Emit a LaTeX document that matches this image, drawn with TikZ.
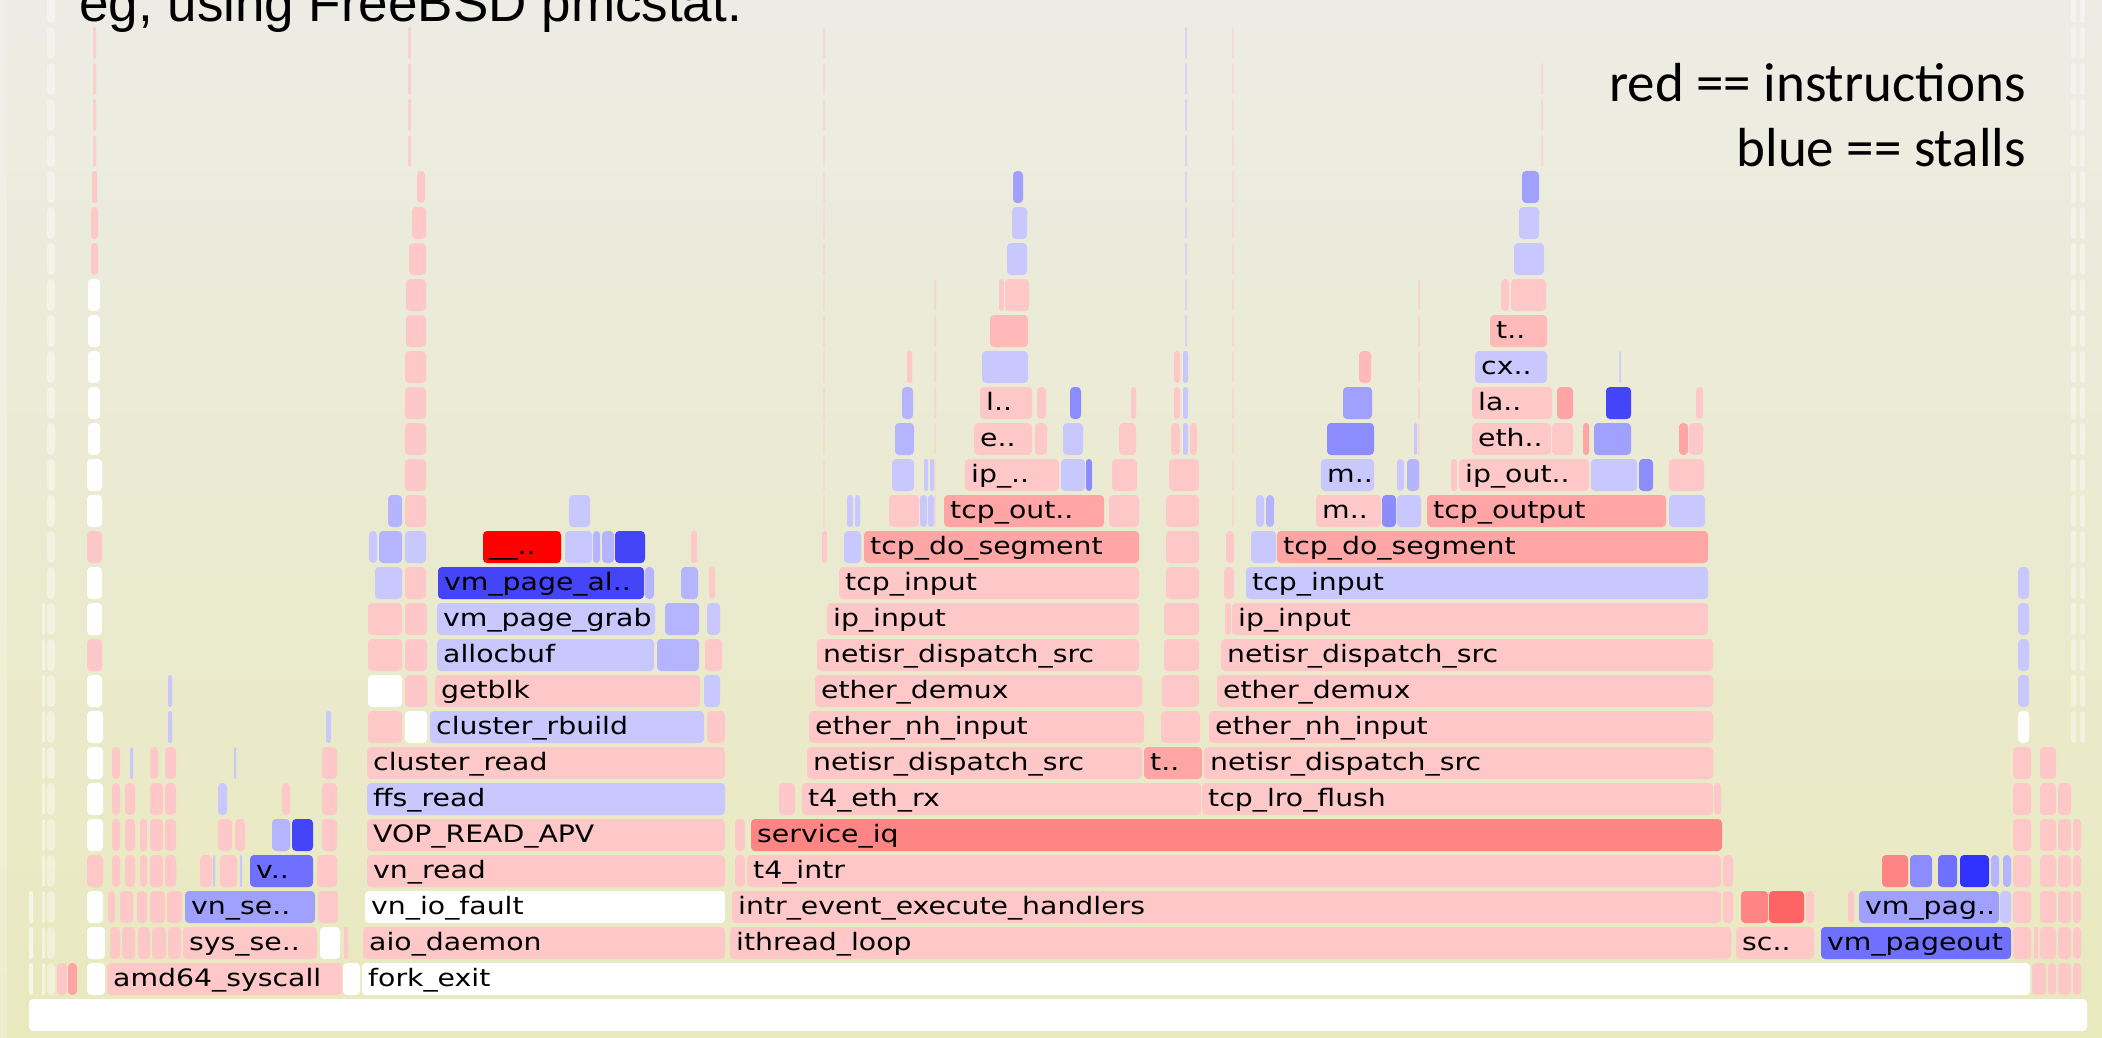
\documentclass[tikz,border=0pt]{standalone}
\usepackage{fontspec}
\newfontfamily\fgfont[FakeStretch=1.18]{DejaVu Sans}
\newfontfamily\slidefont{Liberation Sans}
\newfontfamily\notefont{Carlito}
% frame colours
\definecolor{bgtop}{RGB}{236,236,229}
\definecolor{bgbot}{RGB}{233,233,190}
\definecolor{pkA}{RGB}{255,200,200}
\definecolor{pkB}{RGB}{255,185,185}
\definecolor{pkC}{RGB}{255,165,165}
\definecolor{pkD}{RGB}{255,132,132}
\definecolor{pkE}{RGB}{255,100,100}
\definecolor{rdF}{RGB}{255,0,0}
\definecolor{blA}{RGB}{200,200,255}
\definecolor{blB}{RGB}{180,180,255}
\definecolor{blC}{RGB}{160,160,255}
\definecolor{blD}{RGB}{140,140,255}
\definecolor{blE}{RGB}{112,112,255}
\definecolor{blF}{RGB}{68,68,248}
\definecolor{blG}{RGB}{50,50,255}
% one stack frame: left x, right x, level, fill
\newcommand\fgbox[4]{%
  \pgfmathsetmacro\fgrad{min(4,(#2-#1)/2)}%
  \fill[#4,rounded corners=\fgrad pt] (#1,{999-36*#3}) rectangle (#2,{1031-36*#3});}
% frame label: name, left x of frame, level, text
\newcommand\fgl[4]{\node[fglabel] (#1) at ({#2+6},{1022-36*#3}) {#4};}
\begin{document}
\begin{tikzpicture}[x=1pt,y=-1pt,
  fglabel/.style={anchor=base west,inner sep=0pt,font=\fgfont\fontsize{24}{24}\selectfont,text=black}]
\useasboundingbox (0,0) rectangle (2102,1038);
\clip (0,0) rectangle (2102,1038);
\shade[top color=bgtop,bottom color=bgbot] (0,0) rectangle (2102,1038);
\fill[white,opacity=0.25] (0,0) rectangle (7,1038);

% faint side columns
\foreach \r in {1,...,28} {\fgbox{47}{55}{\r}{white,opacity=0.4}}
\foreach \r in {8,...,28} {\fgbox{2071}{2076}{\r}{white,opacity=0.4}\fgbox{2080}{2085}{\r}{white,opacity=0.4}}
\foreach \r in {1,2,3} {\fgbox{29}{33}{\r}{white,opacity=0.6}}
\foreach \r in {1,...,11} {\fgbox{42}{45}{\r}{white,opacity=0.5}}

% thin spires
\foreach \r in {24,...,27} {\fgbox{93}{96}{\r}{pkA,opacity=0.8}\fgbox{408}{411}{\r}{pkA,opacity=0.8}}
\foreach \r in {14,...,27} {\fgbox{823}{825}{\r}{pkA,opacity=0.45}\fgbox{1232}{1234}{\r}{pkA,opacity=0.45}}
\foreach \r in {19,...,27} {\fgbox{1185}{1187}{\r}{blA,opacity=0.6}}
\foreach \r in {14,...,20} {\fgbox{934}{936}{\r}{pkA,opacity=0.5}\fgbox{1418}{1420}{\r}{pkA,opacity=0.5}}
\foreach \r in {24,25,26} {\fgbox{1541}{1543}{\r}{pkA,opacity=0.5}}
\foreach \r in {17,18} {\fgbox{1619}{1621}{\r}{blA,opacity=0.7}}

% level 0
\fgbox{29}{2087}{0}{white}
% level 1
\fgbox{57}{67}{1}{pkA}\fgbox{68}{77}{1}{pkC}\fgbox{87}{105}{1}{white}
\fgbox{107}{342}{1}{pkA}\fgl{amd}{107}{1}{amd64\_syscall}
\fgbox{343}{360}{1}{white}
\fgbox{362}{2030}{1}{white}\fgl{fork}{362}{1}{fork\_exit}
\fgbox{2032}{2046}{1}{pkA}\fgbox{2048}{2056}{1}{pkA}\fgbox{2058}{2071}{1}{pkA}\fgbox{2073}{2081}{1}{pkA}
% level 2
\fgbox{87}{105}{2}{white}
\fgbox{110}{120}{2}{pkA}\fgbox{122}{135}{2}{pkA}\fgbox{138}{150}{2}{pkA}\fgbox{152}{166}{2}{pkA}\fgbox{168}{181}{2}{pkA}
\fgbox{183}{317}{2}{pkA}\fgl{syss}{183}{2}{sys\_se..}
\fgbox{320}{340}{2}{white}\fgbox{344}{348}{2}{pkA}
\fgbox{363}{725}{2}{pkA}\fgl{aio}{363}{2}{aio\_daemon}
\fgbox{730}{1731}{2}{pkA}\fgl{ith}{730}{2}{ithread\_loop}
\fgbox{1736}{1814}{2}{pkA}\fgl{sch}{1736}{2}{sc..}
\fgbox{1821}{2011}{2}{blE}\fgl{vmpo}{1821}{2}{vm\_pageout}
\fgbox{2013}{2031}{2}{pkA}\fgbox{2034}{2038}{2}{pkA}\fgbox{2040}{2056}{2}{pkA}\fgbox{2058}{2071}{2}{pkA}\fgbox{2073}{2081}{2}{pkA}
% level 3
\fgbox{87}{103}{3}{white}
\fgbox{108}{115}{3}{pkA}\fgbox{120}{133}{3}{pkA}\fgbox{137}{147}{3}{pkA}\fgbox{150}{165}{3}{pkA}\fgbox{167}{182}{3}{pkA}
\fgbox{185}{315}{3}{blC}\fgl{vnse}{185}{3}{vn\_se..}
\fgbox{318}{338}{3}{pkA}
\fgbox{365}{725}{3}{white}\fgl{vnio}{365}{3}{vn\_io\_fault}
\fgbox{732}{1721}{3}{pkA}\fgl{intr}{732}{3}{intr\_event\_execute\_handlers}
\fgbox{1723}{1733}{3}{pkA}
\fgbox{1741}{1768}{3}{pkD}\fgbox{1769}{1804}{3}{pkE}\fgbox{1806}{1814}{3}{pkA}\fgbox{1848}{1854}{3}{pkA}
\fgbox{1859}{1999}{3}{blC}\fgl{vmpg}{1859}{3}{vm\_pag..}
\fgbox{2000}{2011}{3}{blA}
\fgbox{2013}{2031}{3}{pkA}\fgbox{2040}{2056}{3}{pkA}\fgbox{2058}{2071}{3}{pkA}\fgbox{2073}{2081}{3}{pkA}
% level 4
\fgbox{87}{103}{4}{pkA}
\fgbox{112}{120}{4}{pkA}\fgbox{125}{135}{4}{pkA}\fgbox{140}{147}{4}{pkA}\fgbox{150}{163}{4}{pkA}\fgbox{165}{176}{4}{pkA}
\fgbox{200}{212}{4}{pkA}\fgbox{213}{215}{4}{blA}\fgbox{220}{237}{4}{pkA}\fgbox{240}{242}{4}{blA}
\fgbox{250}{313}{4}{blE}\fgl{vdots}{250}{4}{v..}
\fgbox{317}{337}{4}{pkA}
\fgbox{367}{725}{4}{pkA}\fgl{vnrd}{367}{4}{vn\_read}
\fgbox{735}{745}{4}{pkA}
\fgbox{747}{1721}{4}{pkA}\fgl{t4i}{747}{4}{t4\_intr}
\fgbox{1723}{1733}{4}{pkA}
\fgbox{1882}{1908}{4}{pkD}\fgbox{1910}{1932}{4}{blD}\fgbox{1938}{1957}{4}{blE}\fgbox{1960}{1989}{4}{blG}\fgbox{1991}{1999}{4}{blB}\fgbox{2003}{2011}{4}{blB}
\fgbox{2013}{2031}{4}{pkA}\fgbox{2040}{2056}{4}{pkA}\fgbox{2058}{2071}{4}{pkA}\fgbox{2073}{2081}{4}{pkA}
% level 5
\fgbox{87}{103}{5}{white}
\fgbox{112}{120}{5}{pkA}\fgbox{125}{135}{5}{pkA}\fgbox{140}{147}{5}{pkA}\fgbox{150}{163}{5}{pkA}\fgbox{165}{176}{5}{pkA}
\fgbox{218}{232}{5}{pkA}\fgbox{235}{245}{5}{pkA}
\fgbox{272}{290}{5}{blB}\fgbox{292}{313}{5}{blF}
\fgbox{322}{337}{5}{pkA}
\fgbox{367}{725}{5}{pkA}\fgl{vop}{367}{5}{VOP\_READ\_APV}
\fgbox{735}{745}{5}{pkA}
\fgbox{751}{1722}{5}{pkD}\fgl{siq}{751}{5}{service\_iq}
\fgbox{2013}{2031}{5}{pkA}\fgbox{2040}{2056}{5}{pkA}\fgbox{2058}{2071}{5}{pkA}\fgbox{2073}{2081}{5}{pkA}
% level 6
\fgbox{87}{103}{6}{white}
\fgbox{112}{120}{6}{pkA}\fgbox{125}{135}{6}{pkA}\fgbox{150}{163}{6}{pkA}\fgbox{165}{176}{6}{pkA}
\fgbox{218}{227}{6}{blA}\fgbox{282}{290}{6}{pkA}\fgbox{322}{337}{6}{pkA}
\fgbox{367}{725}{6}{blA}\fgl{ffs}{367}{6}{ffs\_read}
\fgbox{779}{795}{6}{pkA}
\fgbox{802}{1201}{6}{pkA}\fgl{t4e}{802}{6}{t4\_eth\_rx}
\fgbox{1202}{1713}{6}{pkA}\fgl{lro}{1202}{6}{tcp\_lro\_flush}
\fgbox{1714}{1721}{6}{pkA}
\fgbox{2013}{2031}{6}{pkA}\fgbox{2040}{2056}{6}{pkA}\fgbox{2058}{2071}{6}{pkA}
% level 7
\fgbox{87}{103}{7}{white}
\fgbox{112}{120}{7}{pkA}\fgbox{130}{133}{7}{blA}\fgbox{150}{158}{7}{pkA}\fgbox{165}{176}{7}{pkA}\fgbox{234}{236}{7}{blA}\fgbox{322}{337}{7}{pkA}
\fgbox{367}{725}{7}{pkA}\fgl{clr}{367}{7}{cluster\_read}
\fgbox{807}{1142}{7}{pkA}\fgl{nds1}{807}{7}{netisr\_dispatch\_src}
\fgbox{1144}{1202}{7}{pkC}\fgl{tdot}{1144}{7}{t..}
\fgbox{1204}{1713}{7}{pkA}\fgl{nds2}{1204}{7}{netisr\_dispatch\_src}
\fgbox{2013}{2031}{7}{pkA}\fgbox{2040}{2056}{7}{pkA}
% level 8
\fgbox{87}{103}{8}{white}
\fgbox{168}{172}{8}{blA}\fgbox{326}{331}{8}{blA}
\fgbox{368}{402}{8}{pkA}\fgbox{405}{427}{8}{white}
\fgbox{430}{704}{8}{blA}\fgl{crb}{430}{8}{cluster\_rbuild}
\fgbox{707}{725}{8}{pkA}
\fgbox{809}{1144}{8}{pkA}\fgl{enh1}{809}{8}{ether\_nh\_input}
\fgbox{1161}{1200}{8}{pkA}
\fgbox{1209}{1713}{8}{pkA}\fgl{enh2}{1209}{8}{ether\_nh\_input}
\fgbox{2018}{2029}{8}{white}
% level 9
\fgbox{87}{102}{9}{white}
\fgbox{168}{172}{9}{blA}
\fgbox{368}{402}{9}{white}\fgbox{405}{427}{9}{pkA}
\fgbox{435}{700}{9}{pkA}\fgl{gblk}{435}{9}{getblk}
\fgbox{704}{720}{9}{blA}
\fgbox{815}{1142}{9}{pkA}\fgl{edm1}{815}{9}{ether\_demux}
\fgbox{1162}{1199}{9}{pkA}
\fgbox{1217}{1713}{9}{pkA}\fgl{edm2}{1217}{9}{ether\_demux}
\fgbox{2018}{2029}{9}{blA}
% level 10
\fgbox{87}{102}{10}{pkA}
\fgbox{368}{402}{10}{pkA}\fgbox{405}{427}{10}{pkA}
\fgbox{437}{654}{10}{blA}\fgl{alb}{437}{10}{allocbuf}
\fgbox{657}{699}{10}{blB}\fgbox{705}{722}{10}{pkA}
\fgbox{817}{1139}{10}{pkA}\fgl{nds3}{817}{10}{netisr\_dispatch\_src}
\fgbox{1164}{1199}{10}{pkA}
\fgbox{1221}{1713}{10}{pkA}\fgl{nds4}{1221}{10}{netisr\_dispatch\_src}
\fgbox{2018}{2029}{10}{blA}
% level 11
\fgbox{87}{102}{11}{white}
\fgbox{368}{402}{11}{pkA}\fgbox{405}{427}{11}{pkA}
\fgbox{437}{655}{11}{blA}\fgl{vpg}{437}{11}{vm\_page\_grab}
\fgbox{665}{699}{11}{blB}\fgbox{707}{720}{11}{blA}
\fgbox{827}{1139}{11}{pkA}\fgl{ipi1}{827}{11}{ip\_input}
\fgbox{1164}{1199}{11}{pkA}\fgbox{1225}{1231}{11}{pkA}
\fgbox{1232}{1708}{11}{pkA}\fgl{ipi2}{1232}{11}{ip\_input}
\fgbox{2018}{2029}{11}{blA}
% level 12
\fgbox{87}{102}{12}{white}
\fgbox{375}{402}{12}{blA}\fgbox{405}{426}{12}{pkA}
\fgbox{438}{644}{12}{blF}\fgl{vpa}{438}{12}{vm\_page\_al..}
\fgbox{645}{654}{12}{blB}\fgbox{681}{698}{12}{blB}\fgbox{709}{715}{12}{pkA}
\fgbox{839}{1139}{12}{pkA}\fgl{tci1}{839}{12}{tcp\_input}
\fgbox{1166}{1199}{12}{pkA}\fgbox{1224}{1234}{12}{pkA}
\fgbox{1246}{1708}{12}{blA}\fgl{tci2}{1246}{12}{tcp\_input}
\fgbox{2018}{2029}{12}{blA}
% level 13
\fgbox{87}{102}{13}{pkA}
\fgbox{369}{377}{13}{blA}\fgbox{379}{402}{13}{blB}\fgbox{405}{426}{13}{blA}
\fgbox{483}{561}{13}{rdF}\fgl{lock}{483}{13}{\_\_..}
\fgbox{565}{592}{13}{blA}\fgbox{593}{600}{13}{blB}\fgbox{602}{614}{13}{blB}\fgbox{615}{645}{13}{blF}
\fgbox{691}{697}{13}{pkA}\fgbox{822}{827}{13}{pkA}\fgbox{844}{861}{13}{blA}
\fgbox{864}{1139}{13}{pkC}\fgl{tds1}{864}{13}{tcp\_do\_segment}
\fgbox{1166}{1199}{13}{pkA}\fgbox{1226}{1234}{13}{pkA}
\fgbox{1251}{1276}{13}{blA}
\fgbox{1277}{1708}{13}{pkC}\fgl{tds2}{1277}{13}{tcp\_do\_segment}
% level 14
\fgbox{87}{102}{14}{white}
\fgbox{388}{402}{14}{blB}\fgbox{405}{426}{14}{pkA}
\fgbox{569}{590}{14}{blA}\fgbox{847}{853}{14}{blA}\fgbox{855}{860}{14}{blA}
\fgbox{889}{919}{14}{pkA}\fgbox{920}{927}{14}{blA}\fgbox{928}{934}{14}{blA}
\fgbox{944}{1104}{14}{pkC}\fgl{tco1}{944}{14}{tcp\_out..}
\fgbox{1109}{1139}{14}{pkA}\fgbox{1166}{1199}{14}{pkA}
\fgbox{1256}{1264}{14}{blA}\fgbox{1266}{1274}{14}{blB}
\fgbox{1316}{1381}{14}{pkA}\fgl{mm1}{1316}{14}{m..}
\fgbox{1382}{1396}{14}{blD}\fgbox{1397}{1421}{14}{blA}
\fgbox{1427}{1666}{14}{pkC}\fgl{tco2}{1427}{14}{tcp\_output}
\fgbox{1669}{1705}{14}{blA}
% level 15
\fgbox{87}{102}{15}{white}
\fgbox{405}{426}{15}{pkA}
\fgbox{892}{914}{15}{blA}\fgbox{924}{928}{15}{blA}\fgbox{930}{934}{15}{blA}
\fgbox{965}{1059}{15}{pkA}\fgl{ipd}{965}{15}{ip\_..}
\fgbox{1061}{1085}{15}{blA}\fgbox{1086}{1092}{15}{blD}
\fgbox{1112}{1137}{15}{pkA}\fgbox{1169}{1199}{15}{pkA}
\fgbox{1321}{1374}{15}{blA}\fgl{mm2}{1321}{15}{m..}
\fgbox{1397}{1404}{15}{blA}\fgbox{1407}{1419}{15}{blB}\fgbox{1451}{1457}{15}{pkA}
\fgbox{1459}{1589}{15}{pkA}\fgl{ipo}{1459}{15}{ip\_out..}
\fgbox{1591}{1637}{15}{blA}\fgbox{1639}{1653}{15}{blD}\fgbox{1669}{1704}{15}{pkA}
% level 16
\fgbox{88}{100}{16}{white}
\fgbox{405}{426}{16}{pkA}
\fgbox{895}{914}{16}{blB}
\fgbox{974}{1032}{16}{pkA}\fgl{edot}{974}{16}{e..}
\fgbox{1035}{1047}{16}{pkA}\fgbox{1063}{1083}{16}{blA}\fgbox{1119}{1136}{16}{pkA}
\fgbox{1171}{1180}{16}{pkA}\fgbox{1183}{1188}{16}{blA}\fgbox{1190}{1197}{16}{pkA}
\fgbox{1327}{1374}{16}{blD}\fgbox{1414}{1417}{16}{blA}
\fgbox{1472}{1551}{16}{pkA}\fgl{ethd}{1472}{16}{eth..}
\fgbox{1552}{1573}{16}{pkA}\fgbox{1583}{1589}{16}{pkC}
\fgbox{1594}{1631}{16}{blC}\fgbox{1679}{1688}{16}{pkC}\fgbox{1689}{1703}{16}{pkA}
% level 17
\fgbox{88}{100}{17}{white}
\fgbox{405}{426}{17}{pkA}
\fgbox{902}{913}{17}{blB}
\fgbox{980}{1032}{17}{pkA}\fgl{ldot}{980}{17}{l..}
\fgbox{1037}{1046}{17}{pkA}\fgbox{1070}{1081}{17}{blD}\fgbox{1131}{1136}{17}{pkA}
\fgbox{1174}{1180}{17}{pkA}\fgbox{1183}{1188}{17}{blA}
\fgbox{1343}{1372}{17}{blC}
\fgbox{1472}{1552}{17}{pkA}\fgl{lad}{1472}{17}{la..}
\fgbox{1557}{1573}{17}{pkC}\fgbox{1606}{1631}{17}{blF}\fgbox{1696}{1703}{17}{pkA}
% level 18
\fgbox{88}{100}{18}{white}
\fgbox{405}{426}{18}{pkA}
\fgbox{907}{912}{18}{pkA}
\fgbox{982}{1028}{18}{blA}
\fgbox{1174}{1180}{18}{pkA}\fgbox{1183}{1188}{18}{blA}
\fgbox{1359}{1371}{18}{pkB}
\fgbox{1475}{1547}{18}{blA}\fgl{cxd}{1475}{18}{cx..}
% level 19
\fgbox{88}{100}{19}{white}
\fgbox{406}{426}{19}{pkA}
\fgbox{990}{1028}{19}{pkB}
\fgbox{1490}{1547}{19}{pkB}\fgl{tdot2}{1490}{19}{t..}
% level 20
\fgbox{88}{100}{20}{white}
\fgbox{406}{426}{20}{pkA}
\fgbox{999}{1004}{20}{pkA}\fgbox{1005}{1029}{20}{pkA}
\fgbox{1501}{1509}{20}{pkA}\fgbox{1511}{1546}{20}{pkA}
% level 21
\fgbox{91}{98}{21}{pkA}\fgbox{409}{426}{21}{pkA}
\fgbox{1007}{1027}{21}{blA}\fgbox{1514}{1544}{21}{blA}
% level 22
\fgbox{91}{98}{22}{pkA}\fgbox{412}{426}{22}{pkA}
\fgbox{1012}{1027}{22}{blA}\fgbox{1519}{1539}{22}{blA}
% level 23
\fgbox{92}{97}{23}{pkA}\fgbox{417}{425}{23}{pkA}
\fgbox{1013}{1023}{23}{blC}\fgbox{1522}{1539}{23}{blC}

% slide text
\node[anchor=base west,inner sep=0pt,font=\slidefont\fontsize{53}{53}\selectfont] (title) at (79,22) {eg, using FreeBSD pmcstat.};
\node[anchor=base east,inner sep=0pt,font=\notefont\fontsize{55}{55}\selectfont] (red) at (2026,102) {red == instructions};
\node[anchor=base east,inner sep=0pt,font=\notefont\fontsize{55}{55}\selectfont] (blue) at (2026,167) {blue == stalls};
\end{tikzpicture}
\end{document}
